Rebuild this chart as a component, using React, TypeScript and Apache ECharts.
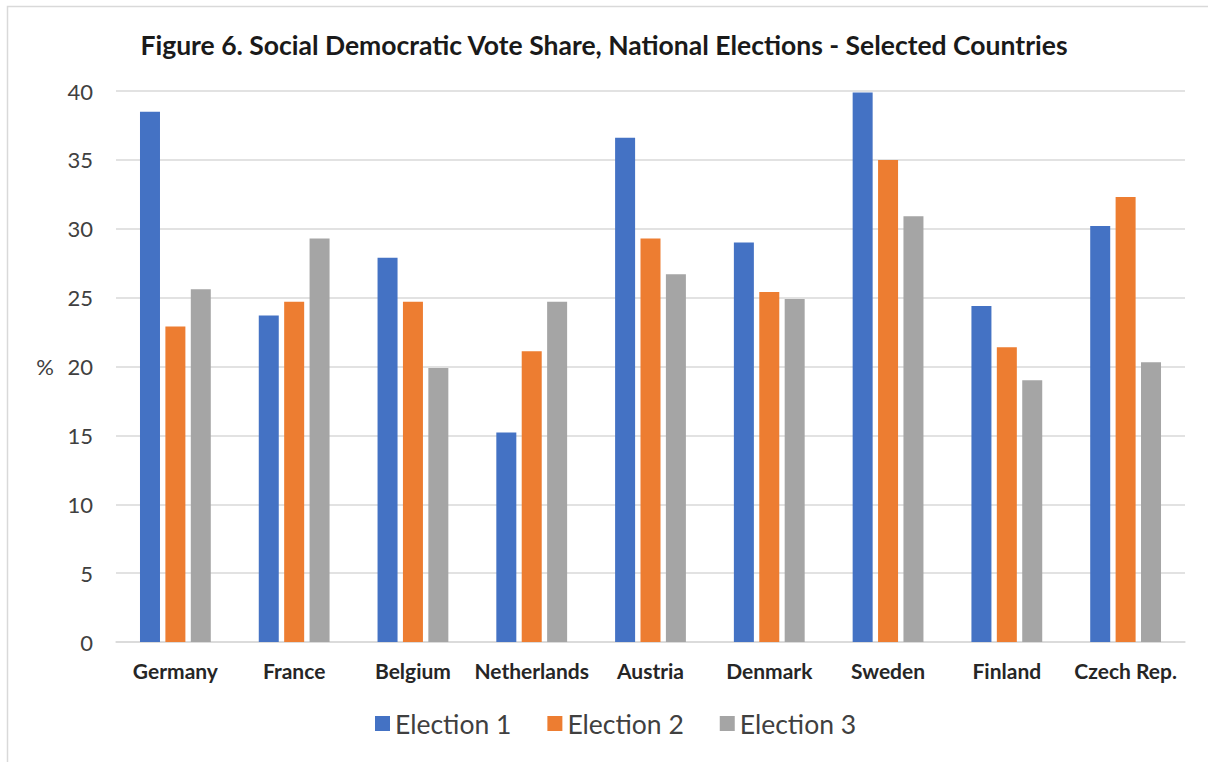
import React, { useEffect, useRef } from "react";
import * as echarts from "echarts";

const countries = [
  "Germany",
  "France",
  "Belgium",
  "Netherlands",
  "Austria",
  "Denmark",
  "Sweden",
  "Finland",
  "Czech Rep.",
];

const election1 = [38.5, 23.7, 27.9, 15.2, 36.6, 29.0, 39.9, 24.4, 30.2];
const election2 = [22.9, 24.7, 24.7, 21.1, 29.3, 25.4, 35.0, 21.4, 32.3];
const election3 = [25.6, 29.3, 19.9, 24.7, 26.7, 24.9, 30.9, 19.0, 20.3];

const seriesNames = ["Election 1", "Election 2", "Election 3"];
const seriesColors = ["#4472C4", "#ED7D31", "#A5A5A5"];

const yTicks = { min: 0, max: 40, interval: 5 };

const FONT = "Lato, 'Open Sans', sans-serif";

export default function App() {
  const ref = useRef<HTMLDivElement>(null);

  useEffect(() => {
    if (!ref.current) return;
    const chart = echarts.init(ref.current, undefined, { renderer: "svg" });
    const values = [election1, election2, election3];

    chart.setOption({
      animation: false,
      backgroundColor: "#ffffff",
      textStyle: { fontFamily: FONT },
      title: {
        text: "Figure 6. Social Democratic Vote Share, National Elections - Selected Countries",
        left: "center",
        top: 26,
        textStyle: {
          fontFamily: FONT,
          fontSize: 26.5,
          fontWeight: "bold",
          color: "#1a1a1a",
        },
      },
      graphic: [
        {
          type: "rect",
          shape: { x: 7.5, y: 6.5, width: 1220, height: 780 },
          style: { fill: "none", stroke: "#d9d9d9", lineWidth: 1.5 },
          silent: true,
        },
      ],
      legend: {
        data: seriesNames,
        bottom: 20,
        left: 370,
        itemWidth: 15,
        itemHeight: 15,
        itemGap: 36,
        icon: "rect",
        textStyle: {
          fontFamily: FONT,
          fontSize: 26.5,
          color: "#404040",
          padding: [0, 0, 0, 0],
        },
      },
      grid: {
        left: 116,
        right: 23,
        top: 91,
        bottom: 120,
      },
      xAxis: {
        type: "category",
        data: countries,
        axisTick: { show: false },
        axisLine: { lineStyle: { color: "#d9d9d9", width: 1.5 } },
        axisLabel: {
          fontFamily: FONT,
          fontSize: 21,
          fontWeight: "bold",
          color: "#262626",
          margin: 18,
          interval: 0,
        },
      },
      yAxis: {
        type: "value",
        min: yTicks.min,
        max: yTicks.max,
        interval: yTicks.interval,
        name: "%",
        nameLocation: "middle",
        nameRotate: 0,
        nameGap: 62,
        nameTextStyle: { fontFamily: FONT, fontSize: 22, color: "#404040" },
        axisLine: { show: false },
        axisTick: { show: false },
        splitLine: { lineStyle: { color: "#d9d9d9", width: 1.5 } },
        axisLabel: {
          fontFamily: FONT,
          fontSize: 22,
          color: "#404040",
          margin: 23,
        },
      },
      series: seriesNames.map((name, i) => ({
        name,
        type: "bar",
        data: values[i],
        barWidth: 20,
        barGap: "27%",
        itemStyle: { color: seriesColors[i] },
      })),
    });

    return () => chart.dispose();
  }, []);

  return (
    <div
      ref={ref}
      style={{ position: "fixed", left: 0, top: 0, width: 1208, height: 762 }}
    />
  );
}
